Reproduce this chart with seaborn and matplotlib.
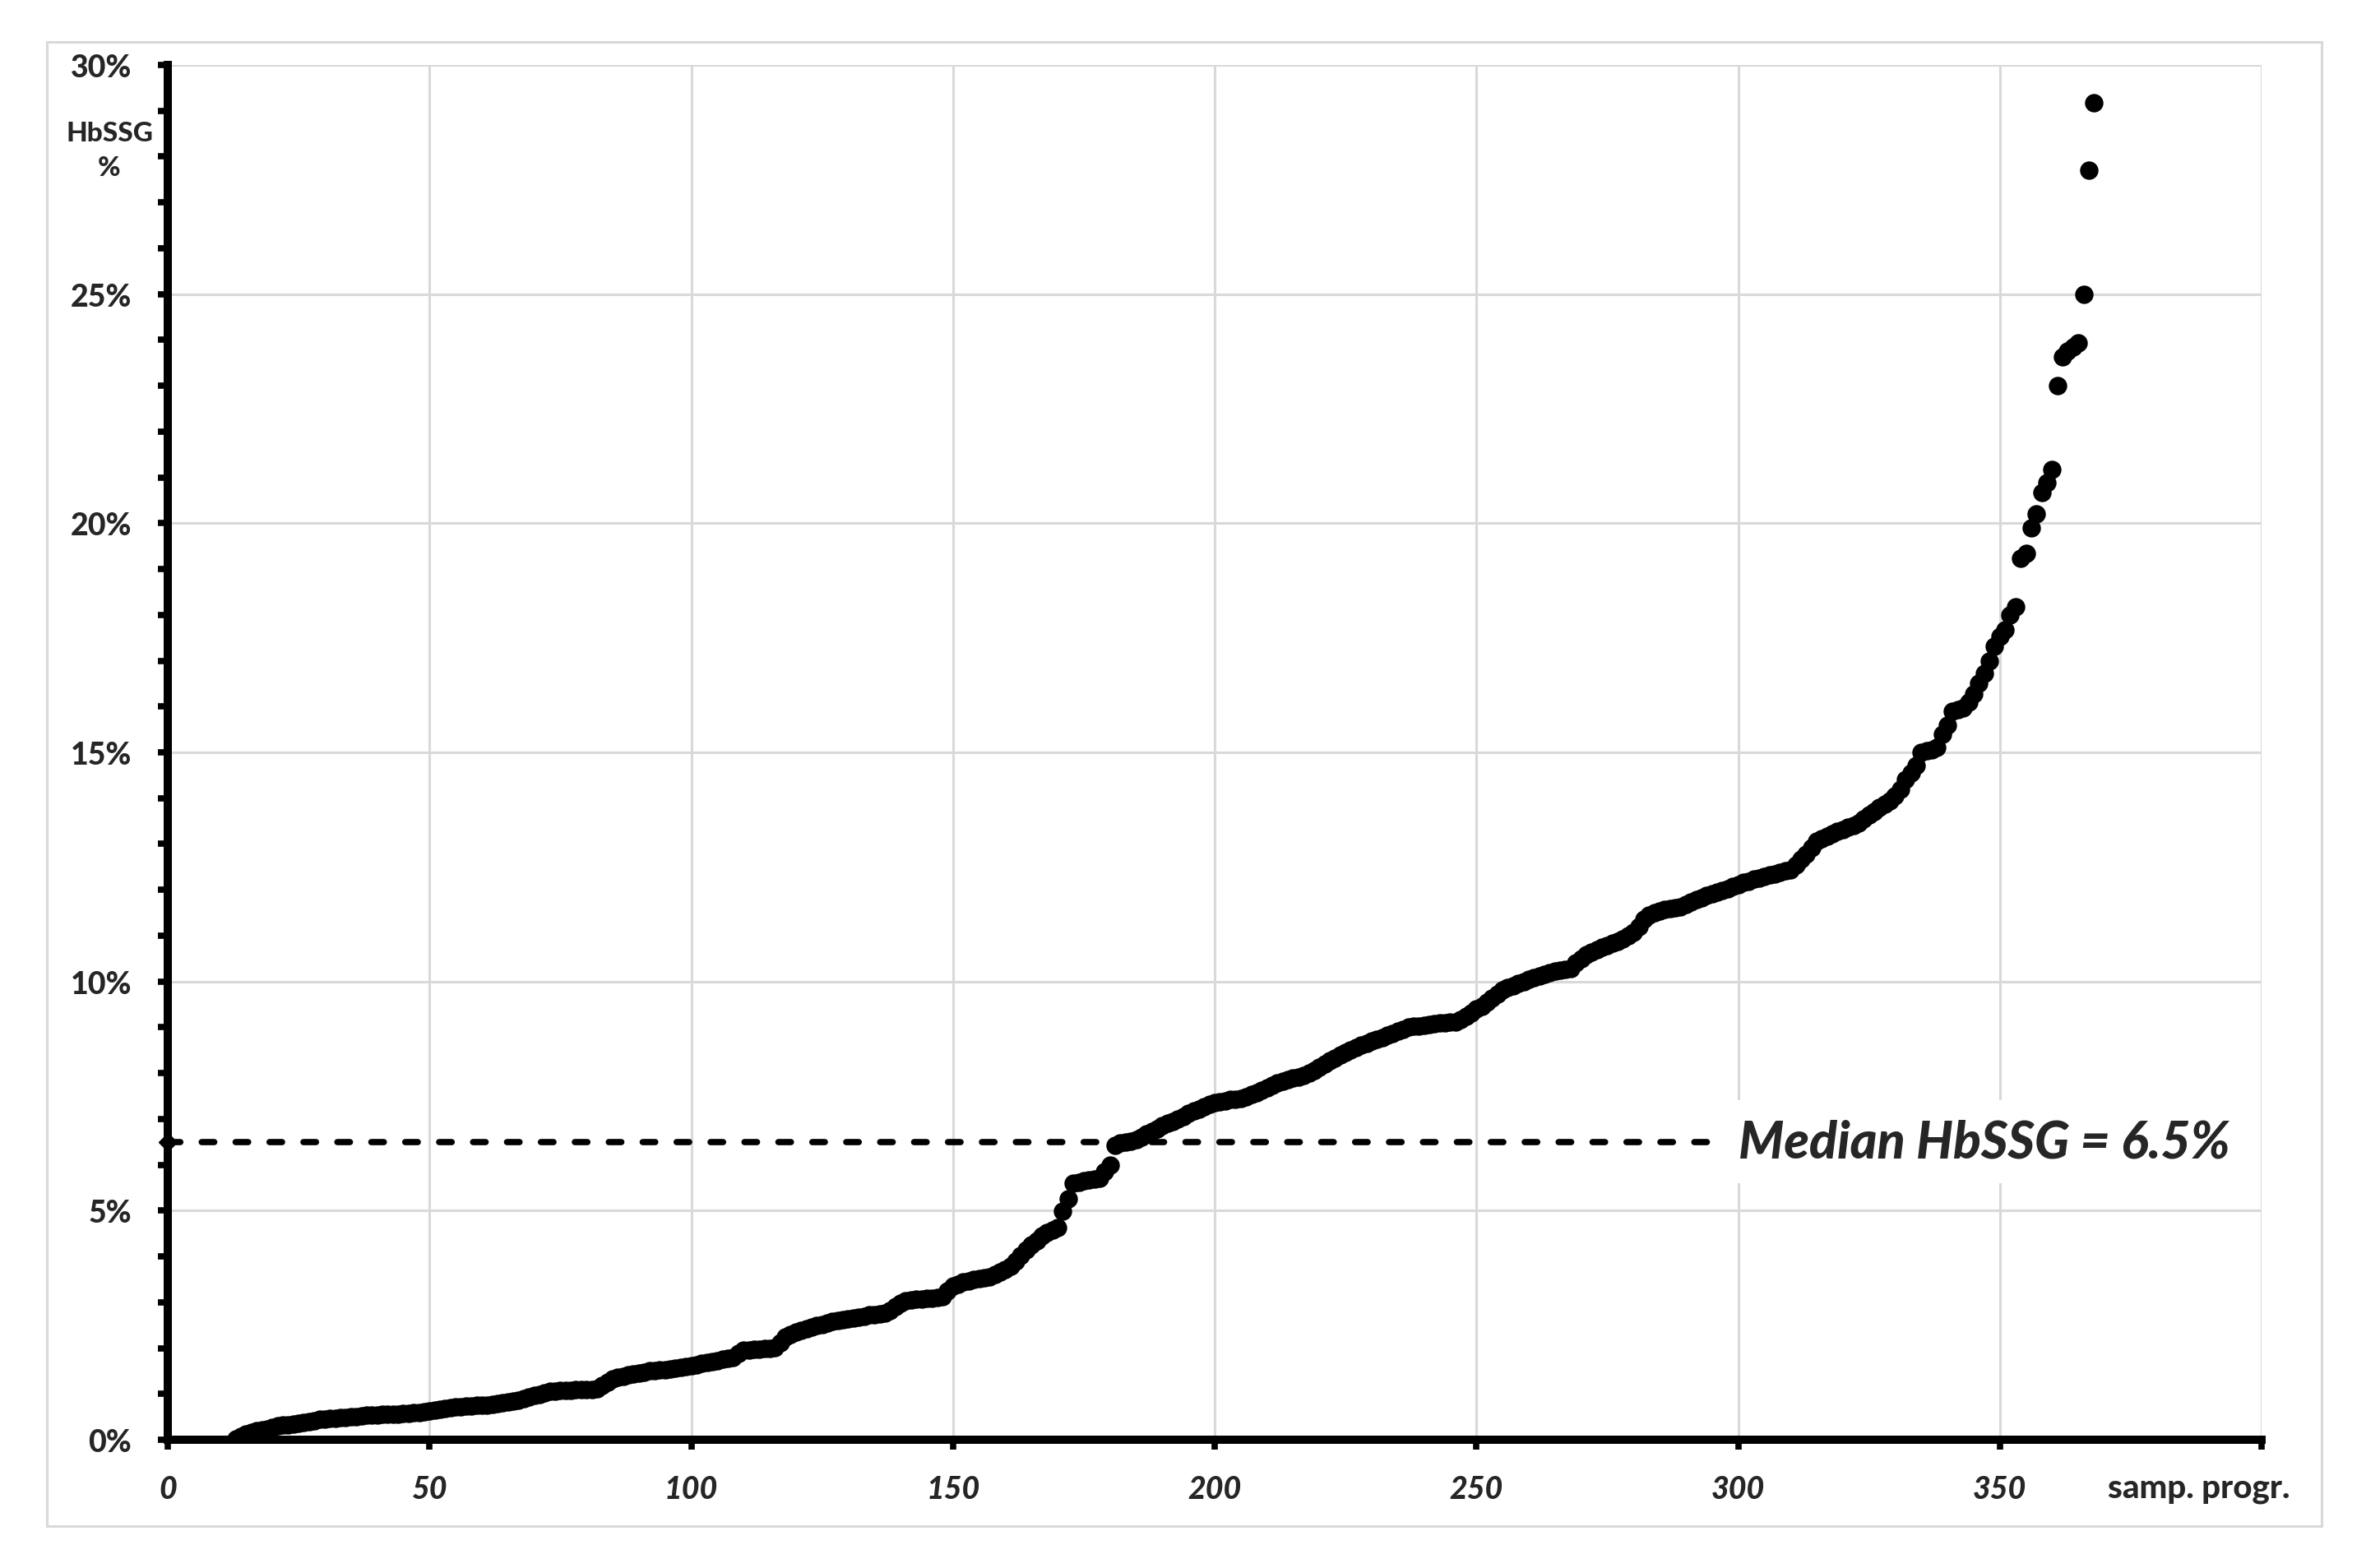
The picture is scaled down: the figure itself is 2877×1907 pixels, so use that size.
import numpy as np
import matplotlib
matplotlib.use("Agg")
import matplotlib.pyplot as plt
import seaborn as sns
from matplotlib.patches import Rectangle
from matplotlib.ticker import MultipleLocator

# --- Data ---
# HbSSG % for each sample, sorted; first plotted sample is number 13
first_sample = 13
hbssg_pct = [
    0.02, 0.08, 0.12, 0.16, 0.20, 0.22, 0.24, 0.27, 0.30, 0.32,
    0.33, 0.34, 0.35, 0.37, 0.40, 0.42, 0.44, 0.45, 0.46, 0.47,
    0.48, 0.49, 0.50, 0.51, 0.52, 0.53, 0.53, 0.54, 0.55, 0.55,
    0.56, 0.56, 0.57, 0.58, 0.59, 0.60, 0.61, 0.62, 0.64, 0.66,
    0.68, 0.70, 0.71, 0.72, 0.73, 0.74, 0.75, 0.76, 0.76, 0.77,
    0.79, 0.81, 0.83, 0.85, 0.87, 0.90, 0.93, 0.96, 0.99, 1.02,
    1.05, 1.06, 1.07, 1.08, 1.08, 1.09, 1.09, 1.10, 1.10, 1.11,
    1.18, 1.25, 1.32, 1.36, 1.39, 1.42, 1.44, 1.46, 1.48, 1.50,
    1.51, 1.52, 1.53, 1.55, 1.56, 1.58, 1.60, 1.62, 1.64, 1.66,
    1.68, 1.71, 1.73, 1.75, 1.78, 1.80, 1.88, 1.95, 1.96, 1.97,
    1.98, 1.99, 2.00, 2.01, 2.12, 2.25, 2.30, 2.35, 2.39, 2.43,
    2.46, 2.49, 2.52, 2.55, 2.58, 2.60, 2.62, 2.64, 2.66, 2.68,
    2.70, 2.72, 2.73, 2.75, 2.76, 2.82, 2.90, 2.97, 3.03, 3.05,
    3.06, 3.07, 3.08, 3.09, 3.10, 3.12, 3.25, 3.36, 3.40, 3.44,
    3.47, 3.50, 3.52, 3.54, 3.55, 3.60, 3.66, 3.72, 3.79, 3.90,
    4.02, 4.15, 4.25, 4.35, 4.45, 4.52, 4.58, 4.63, 4.99, 5.26,
    5.59, 5.62, 5.65, 5.67, 5.69, 5.71, 5.85, 6.00, 6.43, 6.47,
    6.50, 6.52, 6.55, 6.61, 6.67, 6.73, 6.79, 6.85, 6.90, 6.95,
    7.00, 7.06, 7.12, 7.17, 7.22, 7.27, 7.32, 7.35, 7.38, 7.40,
    7.42, 7.43, 7.44, 7.48, 7.53, 7.58, 7.63, 7.68, 7.74, 7.78,
    7.82, 7.86, 7.89, 7.92, 7.95, 8.00, 8.06, 8.13, 8.20, 8.28,
    8.33, 8.39, 8.45, 8.50, 8.56, 8.61, 8.65, 8.70, 8.74, 8.78,
    8.82, 8.87, 8.92, 8.96, 9.00, 9.02, 9.03, 9.05, 9.06, 9.07,
    9.09, 9.10, 9.11, 9.12, 9.16, 9.24, 9.32, 9.40, 9.46, 9.55,
    9.64, 9.72, 9.81, 9.86, 9.90, 9.95, 10.00, 10.04, 10.08, 10.12,
    10.16, 10.19, 10.22, 10.25, 10.27, 10.29, 10.40, 10.50, 10.59, 10.64,
    10.69, 10.74, 10.79, 10.84, 10.88, 10.92, 11.00, 11.07, 11.20, 11.35,
    11.45, 11.51, 11.54, 11.57, 11.59, 11.61, 11.63, 11.68, 11.73, 11.78,
    11.82, 11.87, 11.91, 11.95, 11.99, 12.03, 12.08, 12.12, 12.16, 12.19,
    12.23, 12.26, 12.29, 12.32, 12.35, 12.38, 12.41, 12.44, 12.55, 12.66,
    12.77, 12.92, 13.07, 13.12, 13.17, 13.22, 13.27, 13.31, 13.36, 13.41,
    13.46, 13.55, 13.63, 13.71, 13.79, 13.87, 13.95, 14.05, 14.20, 14.40,
    14.56, 14.72, 15.00, 15.03, 15.06, 15.10, 15.40, 15.60, 15.90, 15.93,
    15.96, 16.10, 16.27, 16.50, 16.73, 17.00, 17.32, 17.53, 17.68, 17.99,
    18.17, 19.23, 19.35, 19.90, 20.20, 20.67, 20.88, 21.18, 23.01, 23.63,
    23.75, 23.85, 23.94, 25.00, 27.70, 29.17,
]
median_value = 6.5
median_line_end = 295
median_label = "Median HbSSG = 6.5%"

x_ticks = [0, 50, 100, 150, 200, 250, 300, 350, 400]
x_tick_labels = ["0", "50", "100", "150", "200", "250", "300", "350", ""]
y_ticks = [0, 5, 10, 15, 20, 25, 30]
y_tick_labels = ["0%", "5%", "10%", "15%", "20%", "25%", "30%"]

# --- Style ---
sns.set_style("white")
plt.rcParams["font.family"] = ["Lato", "DejaVu Sans"]
GRID = "#d9d9d9"
WEIGHT = 900

W, H = 2877, 1908
fig = plt.figure(figsize=(W / 100, H / 100), dpi=100)
ax = fig.add_axes([204 / W, 1 - 1752 / H, (2750 - 204) / W, (1752 - 80) / H])

# chart-area border
fig.patches.append(Rectangle((57 / W, 1 - 1857 / H), 2766 / W, 1805 / H,
                             transform=fig.transFigure, fill=False,
                             edgecolor=GRID, lw=2.2))

samples = np.arange(first_sample, first_sample + len(hbssg_pct))
sns.scatterplot(x=samples, y=hbssg_pct, s=260, color="black", linewidth=0,
                ax=ax, zorder=3, legend=False)

# median line
ax.plot([0, median_line_end], [median_value, median_value], color="black",
        lw=5.5, dashes=(2.0, 3.4), dash_capstyle="round", marker="D",
        markevery=[0], ms=11, zorder=4, clip_on=False)
ax.text(300, median_value, median_label, fontsize=45, fontweight=WEIGHT,
        fontstyle="italic", ha="left", va="center", zorder=5, clip_on=False,
        bbox=dict(boxstyle="square,pad=0.35", fc="white", ec="none"))

ax.set_xlim(0, 400)
ax.set_ylim(0, 30)
ax.set_xticks(x_ticks, x_tick_labels, fontsize=27, fontweight=WEIGHT,
              fontstyle="italic")
ax.set_yticks(y_ticks, y_tick_labels, fontsize=27, fontweight=WEIGHT)
ax.yaxis.set_minor_locator(MultipleLocator(1))
ax.tick_params(axis="both", which="both", direction="out", length=8.6,
               width=5.5, color="black", left=True, bottom=True)
ax.tick_params(axis="x", which="minor", bottom=False)
ax.tick_params(axis="x", pad=22)
ax.tick_params(axis="y", pad=23)

ax.grid(True, which="major", color=GRID, lw=2.2)
ax.set_axisbelow(True)
for side in ["top", "right"]:
    ax.spines[side].set_visible(False)
for side in ["left", "bottom"]:
    ax.spines[side].set_color("black")
    ax.spines[side].set_linewidth(7.2)
    ax.spines[side].set_zorder(6)

ax.set_xlabel("")
ax.set_ylabel("")

# axis titles
fig.text(133 / W, 1 - 162 / H, "HbSSG", fontsize=24, fontweight=WEIGHT,
         ha="center", va="center")
fig.text(133 / W, 1 - 205 / H, "%", fontsize=24, fontweight=WEIGHT,
         ha="center", va="center")
fig.text(2563 / W, 1 - 1811 / H, "samp. progr.", fontsize=29,
         fontweight=WEIGHT, ha="left", va="center")

fig.savefig("out.png", dpi=100)
